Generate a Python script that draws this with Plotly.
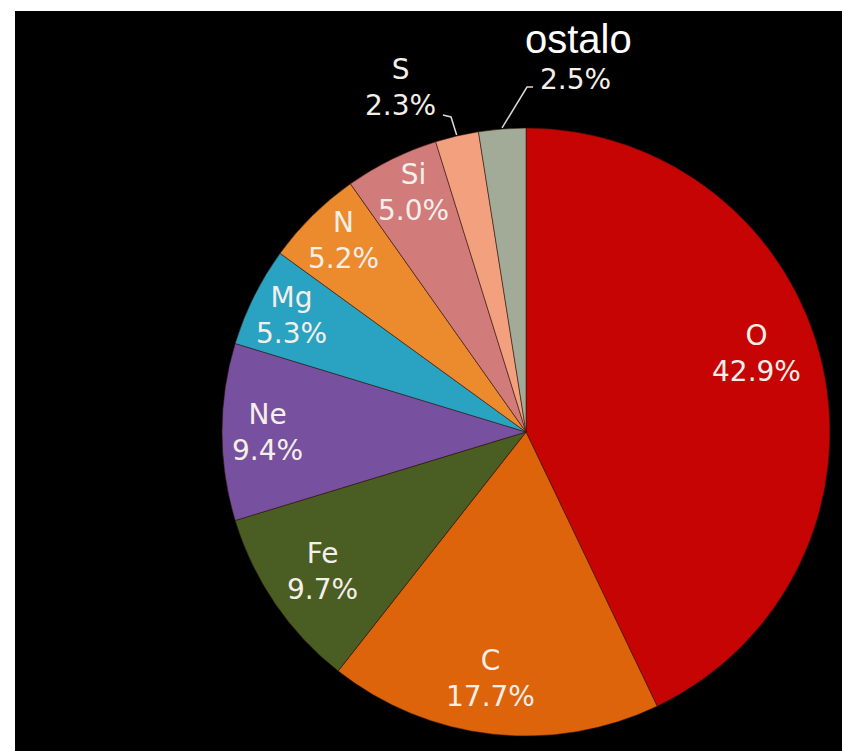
import math
import plotly.graph_objects as go

# Element abundances (percent)
elements = ["O", "C", "Fe", "Ne", "Mg", "N", "Si", "S", "ostalo"]
shares = [42.9, 17.7, 9.7, 9.4, 5.3, 5.2, 5.0, 2.3, 2.5]
colors = ["#c60404", "#de640c", "#4a5d22", "#77519f", "#2aa3c3",
          "#ec8a2e", "#d27b7b", "#f3a07f", "#a2ab98"]

# figure and pie geometry (pixels)
W, H = 842, 751
CX, CY, R = 526, 432, 304

# radial position of the inside labels (fraction of radius) and small angular nudges
inside_r = [0.80, 0.82, 0.81, 0.85, 0.86, 0.87, 0.87]
inside_da = [-6, 2, 0, 0, 0, 1, 1]

FONT = "DejaVu Sans"
TXT = "#f5efe9"


def px_to_paper(x, y):
    return x / W, 1 - y / H


def mid_angles(vals):
    total = sum(vals)
    out, acc = [], 0.0
    for v in vals:
        out.append((acc + v / 2) / total * 360.0)
        acc += v
    return out


def polar(theta_deg, r):
    t = math.radians(theta_deg)
    return CX + r * math.sin(t), CY - r * math.cos(t)


fig = go.Figure(go.Pie(
    labels=elements,
    values=shares,
    sort=False,
    direction="clockwise",
    rotation=0,
    marker=dict(colors=colors, line=dict(color="rgba(50,20,10,0.55)", width=1)),
    textinfo="none",
    hoverinfo="label+percent",
    showlegend=False,
    domain=dict(x=[(CX - R) / W, (CX + R) / W],
                y=[1 - (CY + R) / H, 1 - (CY - R) / H]),
))

mids = mid_angles(shares)
annotations = []
shapes = [dict(type="rect", xref="paper", yref="paper",
               x0=15 / W, x1=1, y0=0, y1=1 - 11 / H,
               fillcolor="black", line=dict(width=0), layer="below")]

# labels inside the larger slices
for i in range(7):
    x, y = polar(mids[i] + inside_da[i], inside_r[i] * R)
    xp, yp = px_to_paper(x, y)
    annotations.append(dict(
        x=xp, y=yp, xref="paper", yref="paper", showarrow=False,
        text=f"{elements[i]}<br>{shares[i]:.1f}%",
        font=dict(family=FONT, size=28, color=TXT),
        xanchor="center", yanchor="middle", align="center"))

# S label with leader line
xp, yp = px_to_paper(400, 87)
annotations.append(dict(
    x=xp, y=yp, xref="paper", yref="paper", showarrow=False,
    text=f"{elements[7]}<br>{shares[7]:.1f}%",
    font=dict(family=FONT, size=28, color=TXT),
    xanchor="center", yanchor="middle", align="center"))

# "ostalo" label: name and value on separate lines with different fonts
xp, yp = px_to_paper(578, 62)
annotations.append(dict(
    x=xp, y=yp, xref="paper", yref="paper", showarrow=False,
    text=elements[8],
    font=dict(family="Liberation Sans", size=40, color="#ffffff"),
    xanchor="center", yanchor="bottom", borderpad=0))
xp, yp = px_to_paper(575, 62)
annotations.append(dict(
    x=xp, y=yp, xref="paper", yref="paper", showarrow=False,
    text=f"{shares[8]:.1f}%",
    font=dict(family=FONT, size=28, color=TXT),
    xanchor="center", yanchor="top", borderpad=0))


def leader(points):
    pts = [px_to_paper(x, y) for x, y in points]
    d = "M " + " L ".join(f"{x:.5f},{y:.5f}" for x, y in pts)
    return dict(type="path", xref="paper", yref="paper", path=d,
                line=dict(color="#d8d8d8", width=1.5))


edge_s = polar(mids[7], R + 1)
edge_o = polar(mids[8], R + 1)
shapes.append(leader([edge_s, (451, 117), (443, 115)]))
shapes.append(leader([edge_o, (527, 87), (533, 87)]))

fig.update_layout(
    width=W, height=H, autosize=False,
    margin=dict(l=0, r=0, t=0, b=0),
    paper_bgcolor="white",
    annotations=annotations,
    shapes=shapes,
)

fig.write_html("out.html")
